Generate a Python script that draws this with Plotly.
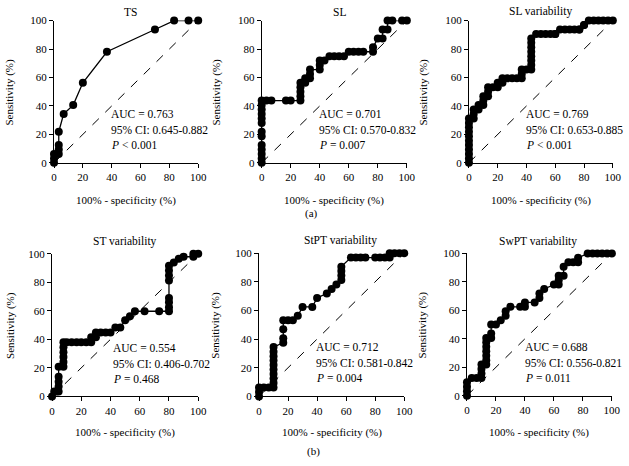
import plotly.graph_objects as go

# ---------------- data ----------------
panel_titles = ["TS", "SL", "SL variability", "ST variability", "StPT variability", "SwPT variability"]

ts_x = [0, 0, 0, 3.3, 3.3, 3.3, 3.3, 6.7, 13.3, 20, 36.7, 70, 83.3, 93.3, 100]
ts_y = [0, 3.1, 6.25, 6.25, 9.4, 12.5, 21.9, 34.4, 40.6, 56.25, 78.1, 93.75, 100, 100, 100]

sl_x = [0] * 13 + [3.3, 6.7, 16.7, 20, 26.7, 26.7, 26.7, 26.7, 26.7, 30, 30, 33.3, 33.3, 33.3,
                   40, 40, 40, 43.3, 46.7, 50, 53.3, 56.7, 60, 63.3, 66.7, 70, 76.7, 76.7,
                   80, 83.3, 83.3, 86.7, 86.7, 90, 96.7, 100]
sl_y = [0, 3.1, 6.25, 9.4, 12.5, 18.75, 21.9, 28.1, 31.25, 34.4, 37.5, 40.6, 43.75,
        43.75, 43.75, 43.75, 43.75, 43.75, 46.9, 50, 53.1, 56.25, 56.25, 59.4, 59.4, 62.5, 65.6,
        65.6, 68.75, 71.9, 71.9, 75, 75, 75, 75, 78.1, 78.1, 78.1, 78.1, 78.1, 81.25,
        87.5, 87.5, 93.75, 93.75, 100, 100, 100, 100]

slv_x = [0] * 11 + [3.3, 3.3, 3.3, 6.7, 6.7, 10, 10, 10, 13.3, 13.3, 13.3, 16.7, 20, 20, 23.3, 23.3,
                    26.7, 30, 33.3, 36.7, 36.7, 36.7, 40, 43.3, 43.3, 43.3, 43.3, 43.3, 43.3, 43.3, 43.3,
                    46.7, 50, 53.3, 56.7, 60, 60, 63.3, 66.7, 70, 73.3, 76.7, 76.7, 80, 80,
                    83.3, 86.7, 90, 93.3, 96.7, 100]
slv_y = [0, 3.1, 6.25, 9.4, 12.5, 15.6, 18.75, 21.9, 25, 28.1, 31.25,
         31.25, 34.4, 37.5, 37.5, 40.6, 40.6, 43.75, 46.9, 46.9, 50, 53.1, 53.1, 53.1, 56.25, 56.25, 59.4,
         59.4, 59.4, 59.4, 59.4, 62.5, 65.6, 65.6, 65.6, 68.75, 71.9, 75, 78.1, 81.25, 84.4, 87.5, 90.6,
         90.6, 90.6, 90.6, 90.6, 90.6, 93.75, 93.75, 93.75, 93.75, 93.75, 93.75, 96.9, 96.9, 100,
         100, 100, 100, 100, 100, 100]

stv_x = [0, 1.5, 3, 4.5, 4.5, 4.5, 4.5, 4.5, 7.8, 7.8, 7.8, 7.8, 7.8, 7.8, 10, 13.4, 16.8, 20, 23.4,
         26.8, 26.8, 30, 30, 33.3, 36.7, 40, 43.3, 46.7, 50, 53.3, 56.7, 63.3, 73.3, 80, 80, 80, 80,
         80, 80, 80, 80, 83.3, 86.7, 90, 96.7, 96.7, 100]
stv_y = [0, 3.4, 3.4, 3.4, 6.9, 10.3, 13.8, 20.7, 20.7, 24.1, 27.6, 31, 34.5, 37.9, 37.9, 37.9, 37.9,
         37.9, 37.9, 37.9, 41.4, 41.4, 44.8, 44.8, 44.8, 44.8, 48.3, 48.3, 53.4, 56.2, 59.7, 59.7,
         59.7, 59.7, 62.5, 66, 69, 81.3, 84.7, 88.2, 91.6, 93.8, 96.5, 97.9, 97.9, 100, 100]

stpt_x = [0, 0, 0, 3.3, 6.7, 10, 10, 10, 10, 10, 10, 10, 10, 10, 10, 16.7, 16.7, 16.7, 16.7, 20,
          23.3, 26.7, 30, 36.7, 40, 46.7, 50, 53.3, 56.7, 56.7, 56.7, 56.7, 63.3, 66.7, 70, 73.3,
          80, 83.3, 86.7, 90, 90, 93.3, 96.7, 100]
stpt_y = [0, 3.1, 6.25, 6.25, 6.25, 6.25, 9.4, 12.5, 15.6, 18.75, 21.9, 25, 28.1, 31.25, 34.4,
          37.5, 40.6, 46.9, 53.1, 53.1, 53.1, 56.25, 62.5, 62.5, 68.75, 71.9, 75, 78.1, 81.25,
          84.4, 87.5, 90.6, 96.9, 96.9, 96.9, 96.9, 96.9, 96.9, 96.9, 96.9, 100, 100, 100, 100]

swpt_x = [0, 0, 0, 0, 3.3, 6.7, 10, 10, 10, 10, 13.3, 13.3, 13.3, 13.3, 13.3, 13.3, 13.3, 16.7,
          16.7, 16.7, 20, 23.3, 26.7, 26.7, 30, 36.7, 40, 40, 46.7, 50, 50, 53.3, 60, 63.3, 63.3,
          63.3, 66.7, 66.7, 70, 73.3, 76.7, 76.7, 83.3, 86.7, 90, 93.3, 96.7, 100]
swpt_y = [0, 3.1, 6.25, 9.4, 12.5, 12.5, 12.5, 15.6, 18.75, 21.9, 21.9, 25, 28.1, 31.25, 34.4,
          37.5, 40.6, 40.6, 43.75, 50, 50, 53.1, 56.25, 59.4, 62.5, 62.5, 62.5, 65.6, 65.6, 68.75,
          71.9, 75, 78.1, 78.1, 81.25, 84.4, 84.4, 90.6, 93.75, 93.75, 93.75, 96.9, 100, 100, 100,
          100, 100, 100]

auc_texts = ["AUC = 0.763", "AUC = 0.701", "AUC = 0.769", "AUC = 0.554", "AUC = 0.712", "AUC = 0.688"]
ci_texts = ["95% CI: 0.645-0.882", "95% CI: 0.570-0.832", "95% CI: 0.653-0.885",
            "95% CI: 0.406-0.702", "95% CI: 0.581-0.842", "95% CI: 0.556-0.821"]
p_texts = ["< 0.001", "= 0.007", "< 0.001", "= 0.468", "= 0.004", "= 0.011"]

diag = [0, 100]
ticks = [0, 20, 40, 60, 80, 100]
x_title = "100% - specificity (%)"
y_title = "Sensitivity (%)"
row_labels = ["(a)", "(b)"]

series = [(ts_x, ts_y), (sl_x, sl_y), (slv_x, slv_y), (stv_x, stv_y), (stpt_x, stpt_y), (swpt_x, swpt_y)]

# ---------------- layout geometry (pixels) ----------------
W, H = 629, 466
FONT = "Liberation Serif, Times New Roman, Times, serif"
# (x0, x1, ytop, ybottom) of each plot area
boxes = [(52, 199, 15, 161), (263.7, 411.7, 15, 161), (475, 621.7, 15, 161),
         (50, 199, 254.3, 400.7), (261, 409, 253.7, 400.7), (473, 620.7, 254, 400)]
title_pos = [(130, 6), (343, 6), (548, 6), (124, 242), (344, 241), (545, 242)]
ytitle_x = [7, 218, 429, 7, 217, 428]
xtitle_y = [200, 200, 200, 438, 438, 438]
ann_left = [108, 320, 531, 110, 317, 530]
ann_top = [111, 111, 111, 351, 350, 350]
label_pos = [(315, 213), (317, 457)]

def px(x):
    return x / W

def py(y):
    return 1 - y / H

fig = go.Figure()
annotations = []
for i, ((xs, ys), (x0, x1, yt, yb)) in enumerate(zip(series, boxes)):
    n = "" if i == 0 else str(i + 1)
    xa, ya = "x" + n, "y" + n
    fig.add_trace(go.Scatter(x=diag, y=diag, mode="lines", xaxis=xa, yaxis=ya,
                             line=dict(color="black", width=1, dash="dash"),
                             showlegend=False, hoverinfo="skip"))
    fig.add_trace(go.Scatter(x=xs, y=ys, mode="lines+markers", xaxis=xa, yaxis=ya,
                             line=dict(color="black", width=1.3),
                             marker=dict(color="black", size=8),
                             cliponaxis=False, showlegend=False))
    axcommon = dict(range=[0, 100], tickvals=ticks, showline=True, linecolor="black", linewidth=1,
                    ticks="outside", ticklen=4, tickwidth=1, tickcolor="black",
                    showgrid=False, zeroline=False,
                    tickfont=dict(family=FONT, size=11, color="black"))
    fig.layout["xaxis" + n] = dict(domain=[px(x0), px(x1)], anchor=ya, **axcommon)
    fig.layout["yaxis" + n] = dict(domain=[py(yb), py(yt)], anchor=xa, **axcommon)

    cx = (x0 + x1) / 2
    cy = (yt + yb) / 2
    tx, ty = title_pos[i]
    annotations.append(dict(x=px(tx), y=py(ty), text=panel_titles[i], showarrow=False,
                            xref="paper", yref="paper", xanchor="center", yanchor="middle",
                            font=dict(family=FONT, size=11.5, color="black")))
    annotations.append(dict(x=px(cx), y=py(xtitle_y[i]), text=x_title, showarrow=False,
                            xref="paper", yref="paper", xanchor="center", yanchor="middle",
                            font=dict(family=FONT, size=11, color="black")))
    annotations.append(dict(x=px(ytitle_x[i]), y=py(cy), text=y_title, showarrow=False, textangle=-90,
                            xref="paper", yref="paper", xanchor="center", yanchor="middle",
                            font=dict(family=FONT, size=11, color="black")))
    for k, t in enumerate([auc_texts[i], ci_texts[i], "<i>P</i> " + p_texts[i]]):
        annotations.append(dict(x=px(ann_left[i]), y=py(ann_top[i] + 16 * k), text=t, showarrow=False,
                                xref="paper", yref="paper", xanchor="left", yanchor="middle",
                                font=dict(family=FONT, size=11.5, color="black")))

for lab, (lx, ly) in zip(row_labels, label_pos):
    annotations.append(dict(x=px(lx), y=py(ly), text=lab, showarrow=False,
                            xref="paper", yref="paper", xanchor="center", yanchor="middle",
                            font=dict(family=FONT, size=11, color="black")))

fig.update_layout(width=W, height=H, margin=dict(l=0, r=0, t=0, b=0),
                  paper_bgcolor="white", plot_bgcolor="white", hovermode=False,
                  annotations=annotations, font=dict(family=FONT, color="black"))
fig.write_html("out.html", config={"displayModeBar": False, "staticPlot": True},
               post_script="document.body.style.margin='0';document.body.style.padding='0';"
                           "document.body.style.overflow='hidden';")
